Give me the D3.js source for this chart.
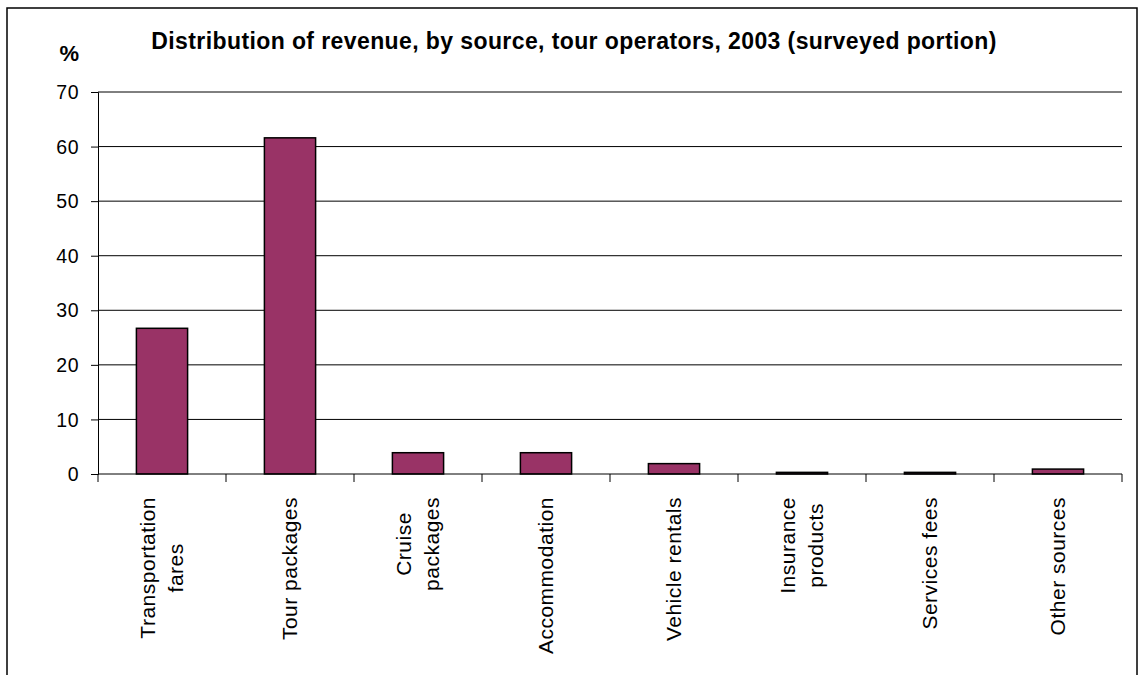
<!DOCTYPE html>
<html>
<head>
<meta charset="utf-8">
<script src="https://cdn.jsdelivr.net/npm/d3@7"></script>
<style>
  html, body { margin: 0; padding: 0; background: #fff; }
  text { font-family: "Liberation Sans", Arial, sans-serif; fill: #000; }
</style>
</head>
<body>
<div id="chart"></div>
<script>
// Data
const categories = [
  "Transportation\nfares",
  "Tour packages",
  "Cruise\npackages",
  "Accommodation",
  "Vehicle rentals",
  "Insurance\nproducts",
  "Services fees",
  "Other sources"
];
const revenueShare = [26.7, 61.6, 3.9, 3.9, 1.9, 0.3, 0.3, 0.9];
const yTicks = [0, 10, 20, 30, 40, 50, 60, 70];
const titleText = "Distribution of revenue, by source, tour operators, 2003 (surveyed portion)";
const unitLabel = "%";

const rows = categories.map((c, i) => ({ category: c, value: revenueShare[i] }));

//#region Shared variables
const width = 1139;
const height = 675;
const margin = { left: 98, top: 92, right: 17, bottom: 201 };
const chart = d3.select("#chart").append("svg")
  .attr("width", width)
  .attr("height", height);
//#endregion

// outer frame (bottom edge runs off the picture)
chart.append("rect")
  .attr("x", 7).attr("y", 8)
  .attr("width", 1130).attr("height", 700)
  .attr("fill", "none")
  .attr("stroke", "#000")
  .attr("stroke-width", 1.5);

//#region Scales
const scaleX = d3.scaleBand()
  .domain(categories)
  .range([margin.left, width - margin.right]);
const scaleY = d3.scaleLinear()
  .domain([0, 70])
  .range([height - margin.bottom, margin.top]);
const barWidth = scaleX.bandwidth() * 0.4;
//#endregion

//#region Gridlines
chart.append("g")
  .selectAll("line")
  .data(yTicks.filter(t => t > 0))
  .join("line")
  .attr("x1", margin.left)
  .attr("x2", width - margin.right)
  .attr("y1", d => scaleY(d))
  .attr("y2", d => scaleY(d))
  .attr("stroke", "#000")
  .attr("stroke-width", 1);
//#endregion

//#region Bars
chart.append("g")
  .selectAll("rect")
  .data(rows)
  .join("rect")
  .attr("x", d => scaleX(d.category) + (scaleX.bandwidth() - barWidth) / 2)
  .attr("y", d => scaleY(d.value))
  .attr("width", barWidth)
  .attr("height", d => scaleY(0) - scaleY(d.value))
  .attr("fill", "#993366")
  .attr("stroke", "#000")
  .attr("stroke-width", 1.5);
//#endregion

//#region Axes
const yAxis = d3.axisLeft(scaleY)
  .tickValues(yTicks)
  .tickSize(7)
  .tickPadding(12);

const yG = chart.append("g")
  .attr("transform", `translate(${margin.left}, 0)`)
  .call(yAxis);
yG.select(".domain").attr("stroke", "#000").attr("stroke-width", 1);
yG.selectAll(".tick line").attr("stroke", "#000");
yG.selectAll(".tick text")
  .attr("font-family", "Liberation Sans, Arial, sans-serif")
  .attr("font-size", 19.5)
  .attr("letter-spacing", 0.5)
  .attr("dy", "0.34em");

// category axis: ticks sit on the band edges
const edges = categories.map(c => scaleX(c)).concat([width - margin.right]);
const xG = chart.append("g")
  .attr("transform", `translate(0, ${scaleY(0)})`);
xG.append("line")
  .attr("x1", margin.left).attr("x2", width - margin.right)
  .attr("stroke", "#000").attr("stroke-width", 1);
xG.selectAll(".edge")
  .data(edges)
  .join("line")
  .attr("class", "edge")
  .attr("x1", d => d).attr("x2", d => d)
  .attr("y1", 0).attr("y2", 8)
  .attr("stroke", "#000");

// rotated, wrapped category labels
const labelTop = 497;
const lineStep = 28;
categories.forEach(c => {
  const lines = c.split("\n");
  const t = chart.append("text")
    .attr("font-size", 21)
    .attr("letter-spacing", 0.5)
    .attr("text-anchor", "middle");
  lines.forEach((ln, i) => {
    t.append("tspan")
      .attr("x", 0)
      .attr("y", (i - (lines.length - 1) / 2) * lineStep + 7)
      .text(ln);
  });
  const maxLen = d3.max(t.selectAll("tspan").nodes(), n => n.getComputedTextLength());
  const cx = scaleX(c) + scaleX.bandwidth() / 2;
  t.attr("transform", `translate(${cx}, ${labelTop + maxLen / 2}) rotate(-90)`);
});
//#endregion

//#region Title and unit
chart.append("text")
  .attr("x", 574)
  .attr("y", 48.5)
  .attr("text-anchor", "middle")
  .attr("font-size", 23)
  .attr("letter-spacing", 0.4)
  .attr("font-weight", "bold")
  .text(titleText);

chart.append("text")
  .attr("x", 79)
  .attr("y", 61)
  .attr("text-anchor", "end")
  .attr("font-size", 22)
  .attr("font-weight", "bold")
  .text(unitLabel);
//#endregion
</script>
</body>
</html>
